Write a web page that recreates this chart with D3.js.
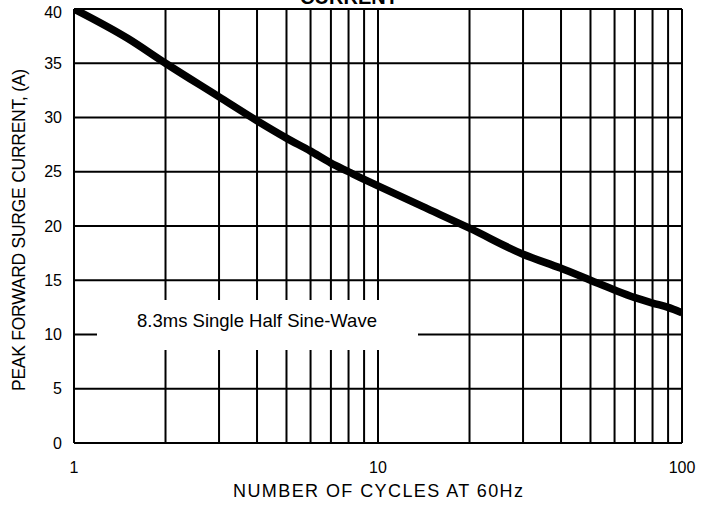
<!DOCTYPE html>
<html>
<head>
<meta charset="utf-8">
<script src="https://cdn.jsdelivr.net/npm/d3@7"></script>
<style>
  body { margin: 0; background: #fff; }
  text { font-family: "Liberation Sans", Arial, sans-serif; fill: #000; }
</style>
</head>
<body>
<svg id="chart"></svg>
<script>
// values
var cycles  = [1, 1.5, 2, 3, 4, 5, 6, 7, 8, 9, 10, 14, 20, 30, 40, 50, 60, 70, 80, 90, 100];
var current = [40, 37.3, 35, 31.9, 29.7, 28.1, 26.9, 25.8, 25.0, 24.3, 23.7, 21.8, 19.8, 17.4, 16.1, 15.0, 14.1, 13.4, 12.9, 12.5, 12.0];

var xGrid = [1, 2, 3, 4, 5, 6, 7, 8, 9, 10, 20, 30, 40, 50, 60, 70, 80, 90, 100];
var xLabels = [1, 10, 100];
var yTicks = [0, 5, 10, 15, 20, 25, 30, 35, 40];

var dim = { width: 712, height: 512 }
var plot = { left: 74, right: 682, top: 9, bottom: 443 }

var svg = d3.select("#chart")
        .attr("width", dim.width)
        .attr("height", dim.height);

var xScale = d3.scaleLog()
        .domain([1, 100])
        .range([plot.left, plot.right]);

var yScale = d3.scaleLinear()
        .domain([0, 40])
        .range([plot.bottom, plot.top]);

var grid = svg.append("g").attr("stroke", "#000").attr("stroke-width", 2);

// vertical grid
grid.selectAll(".vx")
    .data(xGrid).enter()
    .append("line")
    .attr("x1", d => xScale(d)).attr("x2", d => xScale(d))
    .attr("y1", plot.top).attr("y2", plot.bottom);

// horizontal grid
grid.selectAll(".hy")
    .data(yTicks).enter()
    .append("line")
    .attr("x1", plot.left).attr("x2", plot.right)
    .attr("y1", d => yScale(d)).attr("y2", d => yScale(d));

// annotation box blanks the grid under the label
svg.append("rect")
    .attr("x", 97).attr("y", 300)
    .attr("width", 321).attr("height", 50)
    .attr("fill", "#fff");

svg.append("text")
    .attr("x", 257).attr("y", 327)
    .attr("text-anchor", "middle")
    .style("font-size", "18.5px")
    .text("8.3ms Single Half Sine-Wave");

svg.append("defs").append("clipPath").attr("id", "clip")
    .append("rect")
    .attr("x", plot.left).attr("y", plot.top)
    .attr("width", plot.right - plot.left).attr("height", plot.bottom - plot.top);

var line = d3.line()
    .x((d, i) => xScale(cycles[i]))
    .y(d => yScale(d))
    .curve(d3.curveMonotoneX);

svg.append("path")
    .datum(current)
    .attr("clip-path", "url(#clip)")
    .attr("fill", "none")
    .attr("stroke", "#000")
    .attr("stroke-width", 7.5)
    .attr("stroke-linejoin", "round")
    .attr("d", line);

// tick labels
svg.selectAll(".ylab")
    .data(yTicks).enter()
    .append("text")
    .attr("x", 62)
    .attr("y", d => d == 40 ? yScale(d) + 3 : yScale(d))
    .attr("dy", "0.35em")
    .attr("text-anchor", "end")
    .style("font-size", "16px")
    .text(d => d);

svg.selectAll(".xlab")
    .data(xLabels).enter()
    .append("text")
    .attr("x", d => xScale(d))
    .attr("y", 473)
    .attr("text-anchor", "middle")
    .style("font-size", "16px")
    .text(d => d);

// titles
svg.append("text")
    .attr("x", 378).attr("y", 497)
    .attr("text-anchor", "middle")
    .attr("textLength", 290)
    .attr("lengthAdjust", "spacing")
    .style("font-size", "18px")
    .text("NUMBER OF CYCLES AT 60Hz");

svg.append("text")
    .attr("transform", "translate(25,230) rotate(-90)")
    .attr("text-anchor", "middle")
    .attr("textLength", 322)
    .attr("lengthAdjust", "spacing")
    .style("font-size", "17.5px")
    .text("PEAK FORWARD SURGE CURRENT, (A)");

svg.append("text")
    .attr("x", 349).attr("y", 4)
    .attr("text-anchor", "middle")
    .style("font-size", "20px")
    .style("font-weight", "bold")
    .text("CURRENT");
</script>
</body>
</html>
